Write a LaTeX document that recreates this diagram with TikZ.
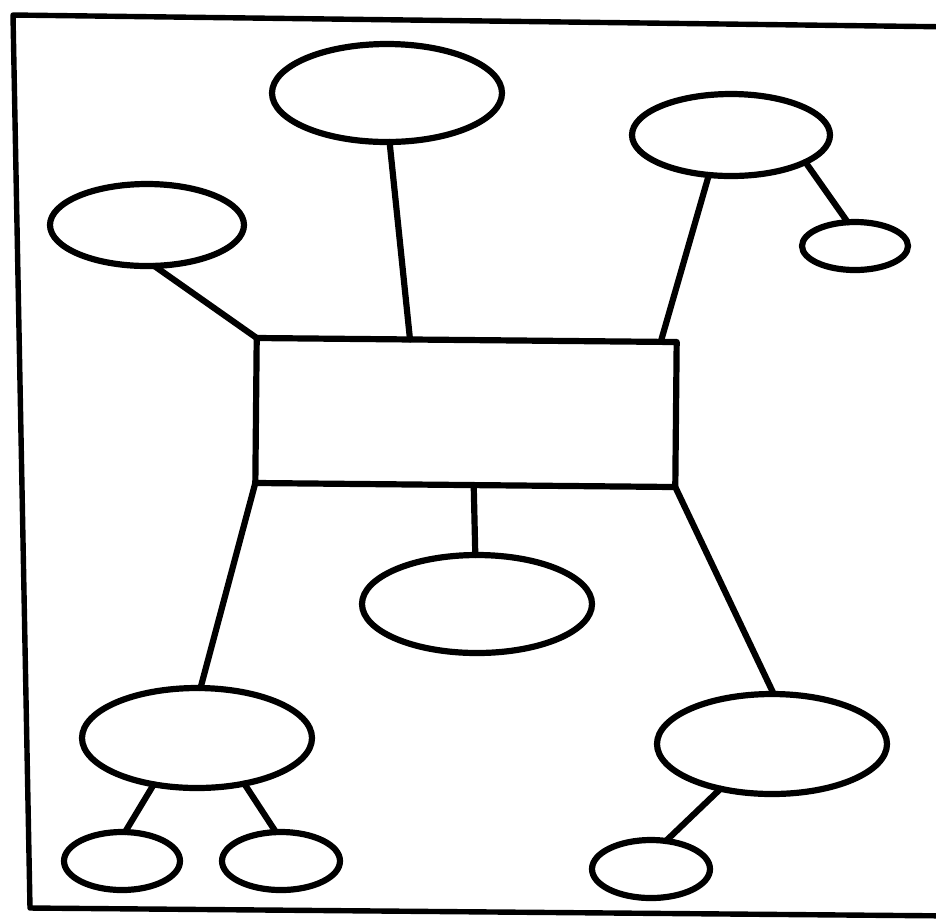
\documentclass[tikz,border=0pt]{standalone}
\usetikzlibrary{shapes.geometric,calc}
\begin{document}
\begin{tikzpicture}[x=0.5pt,y=-0.5pt,
  every path/.style={line width=3.1pt, line cap=round, line join=round},
  ell/.style={draw, ellipse, inner sep=0pt, outer sep=0pt, line width=3.1pt},
  box/.style={draw, rectangle, inner sep=0pt, outer sep=0pt, line width=3.1pt,
     minimum width=210pt, minimum height=72.5pt, rotate=-0.55}]
\useasboundingbox (0,0) rectangle (936,918);
\fill[white] (0,0) rectangle (936,918);
% frame
\draw[line width=2.7pt] (960,27) -- (13,15) -- (30,908) -- (960,916);
% nodes
\node[box] (R) at (466,412.5) {};
\node[ell, minimum width=115pt, minimum height=49pt] (T) at (387,93) {};
\node[ell, minimum width=99pt, minimum height=41pt] (TR) at (731,135) {};
\node[ell, minimum width=53pt, minimum height=24pt] (S1) at (855,246) {};
\node[ell, minimum width=97pt, minimum height=41pt] (L) at (147,225) {};
\node[ell, minimum width=115pt, minimum height=49pt] (M) at (477,604) {};
\node[ell, minimum width=115pt, minimum height=50pt] (BL) at (197,738) {};
\node[ell, minimum width=115pt, minimum height=50pt] (BR) at (772,744) {};
\node[ell, minimum width=58pt, minimum height=29pt] (Sa) at (122,861) {};
\node[ell, minimum width=59pt, minimum height=29pt] (Sb) at (281,861) {};
\node[ell, minimum width=59pt, minimum height=29pt] (Sc) at (651,869) {};
% connectors
\draw (L.-80) -- (R.north west);
\draw (T.-87) -- ($(R.north west)!0.365!(R.north east)$);
\draw (TR.-119) -- ($(R.north west)!0.962!(R.north east)$);
\draw (TR.-20) -- (S1.107);
\draw (M.92) -- ($(R.south west)!0.52!(R.south east)$);
\draw (R.south west) -- (BL.86);
\draw (R.south east) -- (BR.88);
\draw (BL.-133) -- (Sa.84);
\draw (BL.-44) -- (Sb.100);
\draw (BR.-139) -- (Sc.62);
\end{tikzpicture}
\end{document}
